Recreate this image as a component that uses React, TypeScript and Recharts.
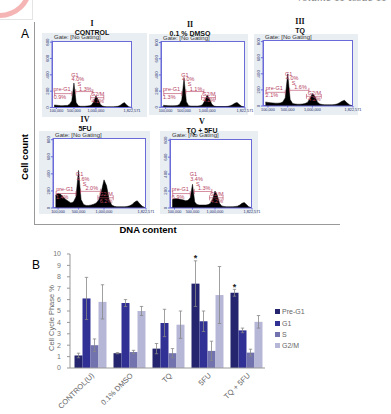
import React from "react";
import {
  Area,
  AreaChart,
  Bar,
  BarChart,
  ErrorBar,
  LabelList,
  ReferenceDot,
  ReferenceLine,
  XAxis,
  YAxis,
} from "recharts";

const FONT = '"Liberation Sans", Arial, Helvetica, sans-serif';

// ---------- A: DNA content histograms ----------
const dnaBins = [
  50000, 100000, 150000, 200000, 250000, 300000, 350000, 400000, 450000,
  500000, 550000, 600000, 650000, 700000, 750000, 800000, 850000, 900000,
  950000, 1000000, 1050000, 1100000, 1150000, 1200000, 1250000, 1300000,
  1350000, 1400000, 1450000, 1500000, 1550000, 1600000, 1650000, 1700000,
  1750000, 1800000,
];
const dnaTicks = [100000, 500000, 1000000, 1822571];
const countTicks = [0, 200, 400, 600, 800];

const controlCounts = [30, 28, 25, 22, 22, 25, 25, 40, 80, 300, 60, 20, 15, 15, 15, 18, 20, 30, 70, 140, 100, 40, 18, 12, 10, 10, 10, 10, 12, 15, 25, 45, 60, 30, 10, 3];
const dmsoCounts = [25, 22, 20, 18, 18, 20, 22, 35, 90, 360, 70, 20, 15, 15, 15, 15, 20, 30, 80, 150, 110, 40, 15, 10, 10, 10, 10, 10, 12, 18, 30, 50, 60, 35, 12, 3];
const tqCounts = [50, 45, 40, 38, 35, 35, 38, 50, 100, 400, 80, 30, 25, 22, 22, 25, 30, 45, 90, 155, 120, 50, 25, 18, 15, 15, 15, 15, 18, 25, 40, 60, 70, 40, 15, 5];
const fuCounts = [150, 170, 160, 130, 100, 80, 60, 70, 130, 440, 100, 40, 30, 30, 35, 45, 60, 100, 200, 330, 260, 100, 35, 20, 15, 15, 15, 15, 18, 25, 40, 70, 85, 50, 20, 5];
const tqFuCounts = [100, 110, 110, 105, 100, 95, 85, 90, 120, 280, 70, 40, 35, 35, 35, 35, 40, 55, 110, 200, 150, 55, 25, 18, 15, 15, 15, 15, 18, 22, 35, 55, 65, 40, 15, 5];

// gate percentages: pre-G1, G1, S, G2/M
const controlPct = ["0.9%", "4.0%", "1.3%", "4.1%"];
const dmsoPct = ["1.3%", "4.0%", "1.1%", "4.2%"];
const tqPct = ["2.1%", "4.0%", "1.6%", "4.2%"];
const fuPct = ["1.4%", "4.6%", "2.0%", "6.2%"];
const tqFuPct = ["6.9%", "3.4%", "1.3%", "4.2%"];

// ---------- B: cell cycle phases ----------
const categories = ["CONTROL(U)", "0.1% DMSO", "TQ", "5FU", "TQ + 5FU"];
const preG1 = [1.1, 1.3, 1.7, 7.4, 6.6];
const preG1Err = [0.2, 0.05, 0.45, 2.0, 0.3];
const g1 = [6.1, 5.7, 3.95, 4.1, 3.3];
const g1Err = [1.85, 0.3, 1.2, 0.9, 0.2];
const sPhase = [2.0, 1.4, 1.3, 1.5, 1.35];
const sErr = [0.55, 0.15, 0.4, 0.85, 0.3];
const g2m = [5.8, 5.0, 3.8, 6.4, 4.05];
const g2mErr = [1.5, 0.4, 1.2, 2.5, 0.55];
const significant = [false, false, false, true, true];
const phaseTicks = [0, 1, 2, 3, 4, 5, 6, 7, 8, 9, 10];
const seriesNames = ["Pre-G1", "G1", "S", "G2/M"];

const seriesColors = ["#25256f", "#303095", "#7272ae", "#b6b6d6"];
const gateRed = "#b5405e";
const boxBlue = "#6a6ad8";

const panels = [
  { roman: "I", name: "CONTROL", counts: controlCounts, pct: controlPct, left: 42, top: 33, w: 105, h: 84, ml: 10, mt: 7.5, mr: 15, mb: 9.5, cx: 92, ty: 18.5 },
  { roman: "II", name: "0.1 % DMSO", counts: dmsoCounts, pct: dmsoPct, left: 149, top: 34, w: 99, h: 81, ml: 12, mt: 7, mr: 3, mb: 7.7, cx: 190, ty: 19.5 },
  { roman: "III", name: "TQ", counts: tqCounts, pct: tqPct, left: 254, top: 34, w: 104, h: 81, ml: 9, mt: 6, mr: 5, mb: 9, cx: 300, ty: 17 },
  { roman: "IV", name: "5FU", counts: fuCounts, pct: fuPct, left: 39, top: 131, w: 111, h: 83, ml: 14, mt: 7, mr: 4, mb: 6, cx: 85, ty: 115 },
  { roman: "V", name: "TQ + 5FU", counts: tqFuCounts, pct: tqFuPct, left: 160, top: 131, w: 98, h: 83, ml: 10, mt: 7.5, mr: 6, mb: 6, cx: 202, ty: 116.5 },
];

function CountTick({ x, y, payload }: any) {
  return (
    <text
      x={x}
      y={y}
      transform={`rotate(-90 ${x} ${y})`}
      textAnchor="middle"
      fontSize={4.3}
      fill="#1c2a6a"
      fontFamily={FONT}
    >
      {payload.value}
    </text>
  );
}

function gateLabel(x: number, y: number, text: string, key: string) {
  return (
    <ReferenceDot
      key={key}
      x={x}
      y={y}
      r={0}
      stroke="none"
      label={{ value: text, fontSize: 5.5, fill: gateRed, position: "center", fontFamily: FONT }}
    />
  );
}

function gateBar(x1: number, x2: number, y: number, key: string) {
  return [
    <ReferenceLine key={key + "h"} segment={[{ x: x1, y }, { x: x2, y }]} stroke={gateRed} strokeWidth={0.6} />,
    <ReferenceLine key={key + "l"} segment={[{ x: x1, y: y - 30 }, { x: x1, y: y + 30 }]} stroke={gateRed} strokeWidth={0.6} />,
    <ReferenceLine key={key + "r"} segment={[{ x: x2, y: y - 30 }, { x: x2, y: y + 30 }]} stroke={gateRed} strokeWidth={0.6} />,
  ];
}

function Histogram({ p }: { p: any }) {
  const data = dnaBins.map((x, i) => ({ x, count: p.counts[i] }));
  const boxW = p.w - p.ml - p.mr;
  const boxH = p.h - p.mt - p.mb;
  return (
    <div
      style={{
        position: "absolute",
        left: p.left,
        top: p.top,
        width: p.w,
        height: p.h,
        background: "#e8eef2",
      }}
    >
      <div
        style={{
          position: "absolute",
          left: p.ml,
          top: p.mt,
          width: boxW,
          height: boxH,
          background: "#fff",
          border: `0.8px solid ${boxBlue}`,
          boxSizing: "border-box",
        }}
      />
      <div
        style={{
          position: "absolute",
          left: p.ml + 2,
          top: p.mt - 6.5,
          fontSize: 6,
          lineHeight: "6px",
          color: "#333",
          whiteSpace: "nowrap",
        }}
      >
        Gate: [No Gating]
      </div>
      <AreaChart
        width={p.w}
        height={p.h}
        data={data}
        margin={{ top: p.mt, right: p.mr, left: 0, bottom: 0 }}
      >
        <XAxis
          dataKey="x"
          type="number"
          domain={[0, 1822571]}
          ticks={dnaTicks}
          interval={0}
          height={p.mb}
          tickSize={1.5}
          tickMargin={0.5}
          stroke={boxBlue}
          tick={{ fontSize: 3.8, fill: "#1c2a6a" }}
          tickFormatter={(v: number) => v.toLocaleString("en-US")}
          allowDataOverflow
        />
        <YAxis
          domain={[0, 820]}
          ticks={countTicks}
          interval={0}
          width={p.ml}
          tickSize={2}
          tickMargin={1}
          stroke={boxBlue}
          tick={<CountTick />}
          allowDataOverflow
        />
        <Area
          dataKey="count"
          type="linear"
          stroke="#000"
          strokeWidth={0.5}
          fill="#000"
          fillOpacity={1}
          dot={false}
          activeDot={false}
          isAnimationActive={false}
        />
        {gateBar(60000, 450000, 170, "pre")}
        {gateLabel(230000, 220, "pre-G1", "preT")}
        {gateLabel(180000, 130, p.pct[0], "preP")}
        {gateLabel(520000, 400, "G1", "g1T")}
        {gateLabel(590000, 345, p.pct[1], "g1P")}
        {gateLabel(620000, 285, "S", "sT")}
        {gateBar(540000, 930000, 195, "s")}
        {gateLabel(760000, 230, p.pct[2], "sP")}
        {gateBar(880000, 1180000, 120, "g2")}
        {gateLabel(1040000, 165, "G2/M", "g2T")}
        {gateLabel(1040000, 85, p.pct[3], "g2P")}
      </AreaChart>
    </div>
  );
}

function CategoryTick({ x, y, payload }: any) {
  const tx = x + 5;
  const ty = y + 8;
  return (
    <text
      x={tx}
      y={ty}
      transform={`rotate(-45 ${tx} ${ty})`}
      textAnchor="end"
      fontSize={7.5}
      fill="#666"
      fontFamily={FONT}
    >
      {payload.value}
    </text>
  );
}

function renderStar(props: any) {
  const { x, y, width, height, index } = props;
  if (!significant[index]) return null;
  const pxPerUnit = height / preG1[index];
  const errTop = y - preG1Err[index] * pxPerUnit;
  return (
    <text
      key={`star-${index}`}
      x={x + width / 2}
      y={errTop + 0.5}
      textAnchor="middle"
      fontSize={9}
      fontWeight="bold"
      fill="#222"
      fontFamily={FONT}
    >
      *
    </text>
  );
}

function PhaseChart() {
  const data = categories.map((name, i) => ({
    name,
    preG1: preG1[i],
    preG1Err: preG1Err[i],
    g1: g1[i],
    g1Err: g1Err[i],
    s: sPhase[i],
    sErr: sErr[i],
    g2m: g2m[i],
    g2mErr: g2mErr[i],
  }));
  const keys = ["preG1", "g1", "s", "g2m"];
  return (
    <div style={{ position: "absolute", left: 0, top: 245, width: 391, height: 169 }}>
      <BarChart
        width={391}
        height={169}
        data={data}
        margin={{ top: 9, right: 126, left: 0, bottom: 0 }}
        barGap={0}
        barCategoryGap={4.5}
      >
        <XAxis
          dataKey="name"
          height={46}
          tickLine={false}
          tickSize={0}
          tickMargin={0}
          interval={0}
          stroke="#999"
          tick={<CategoryTick />}
        />
        <XAxis
          xAxisId="bounds"
          type="number"
          domain={[0, 5]}
          ticks={[1, 2, 3, 4, 5]}
          height={0}
          tick={false}
          axisLine={false}
          tickSize={3}
          stroke="#999"
        />
        <YAxis
          domain={[0, 10]}
          ticks={phaseTicks}
          interval={0}
          width={70}
          tickSize={3}
          tickMargin={6}
          stroke="#999"
          tick={{ fontSize: 7, fill: "#777" }}
        />
        {keys.map((k, i) => (
          <Bar
            key={k}
            dataKey={k}
            fill={seriesColors[i]}
            isAnimationActive={false}
          >
            <ErrorBar dataKey={k + "Err"} width={1.7} stroke="#888" strokeWidth={0.8} />
            {k === "preG1" && <LabelList dataKey="preG1" content={renderStar} />}
          </Bar>
        ))}
      </BarChart>
    </div>
  );
}

export default function App() {
  return (
    <div
      style={{
        position: "absolute",
        left: 0,
        top: 0,
        width: 391,
        height: 414,
        overflow: "hidden",
        background: "#fff",
        fontFamily: FONT,
      }}
    >
      <style>{`.recharts-surface { overflow: visible; }`}</style>
      {/* journal corner marks */}
      <div
        style={{
          position: "absolute",
          left: -34,
          top: -44,
          width: 56,
          height: 52,
          border: "5px solid rgba(238,120,120,0.55)",
          borderRadius: "50%",
        }}
      />
      <div style={{ position: "absolute", left: 0, top: 0, width: 32, height: 19, borderRight: "1px solid #e4e4e4", borderBottom: "1px solid #e4e4e4" }} />
      <div
        style={{
          position: "absolute",
          left: 296,
          top: -9,
          fontFamily: '"Liberation Serif", serif',
          fontStyle: "italic",
          fontSize: 12,
          lineHeight: "12px",
          color: "#888",
          whiteSpace: "nowrap",
        }}
      >
        Volume 11 Issue 11
      </div>

      {/* panel A */}
      <div style={{ position: "absolute", left: 21, top: 28, fontSize: 12, lineHeight: "12px" }}>A</div>
      <div style={{ position: "absolute", left: 34, top: 22, width: 1, height: 202, background: "#999" }} />
      <div style={{ position: "absolute", left: 34, top: 223.5, width: 306, height: 1, background: "#999" }} />
      {panels.map((p) => (
        <Histogram key={p.roman} p={p} />
      ))}
      {panels.map((p) => (
        <div
          key={p.roman + "t"}
          style={{
            position: "absolute",
            left: p.cx - 50,
            top: p.ty,
            width: 100,
            textAlign: "center",
            fontSize: 7,
            fontWeight: "bold",
            lineHeight: "9px",
            color: "#111",
          }}
        >
          <div style={{ fontFamily: '"Liberation Serif", serif', fontSize: 8 }}>{p.roman}</div>
          <div>{p.name}</div>
        </div>
      ))}
      <div
        style={{
          position: "absolute",
          left: 25 - 30,
          top: 157 - 6,
          width: 60,
          textAlign: "center",
          fontSize: 9.5,
          fontWeight: "bold",
          lineHeight: "12px",
          transform: "rotate(-90deg)",
        }}
      >
        Cell count
      </div>
      <div
        style={{
          position: "absolute",
          left: 148 - 40,
          top: 224,
          width: 80,
          textAlign: "center",
          fontSize: 9.5,
          fontWeight: "bold",
          lineHeight: "12px",
        }}
      >
        DNA content
      </div>

      {/* panel B */}
      <div style={{ position: "absolute", left: 32, top: 259, fontSize: 12, lineHeight: "12px" }}>B</div>
      <PhaseChart />
      <div
        style={{
          position: "absolute",
          left: 52 - 40,
          top: 318 - 5,
          width: 80,
          textAlign: "center",
          fontSize: 7.5,
          lineHeight: "10px",
          color: "#666",
          transform: "rotate(-90deg)",
          whiteSpace: "nowrap",
        }}
      >
        Cell Cycle Phase %
      </div>
      <div style={{ position: "absolute", left: 275, top: 306 }}>
        {seriesNames.map((n, i) => (
          <div
            key={n}
            style={{
              display: "flex",
              alignItems: "center",
              height: 11.4,
              fontSize: 7,
              color: "#666",
            }}
          >
            <span
              style={{
                display: "inline-block",
                width: 5,
                height: 5,
                marginRight: 2,
                background: seriesColors[i],
              }}
            />
            {n}
          </div>
        ))}
      </div>
    </div>
  );
}
